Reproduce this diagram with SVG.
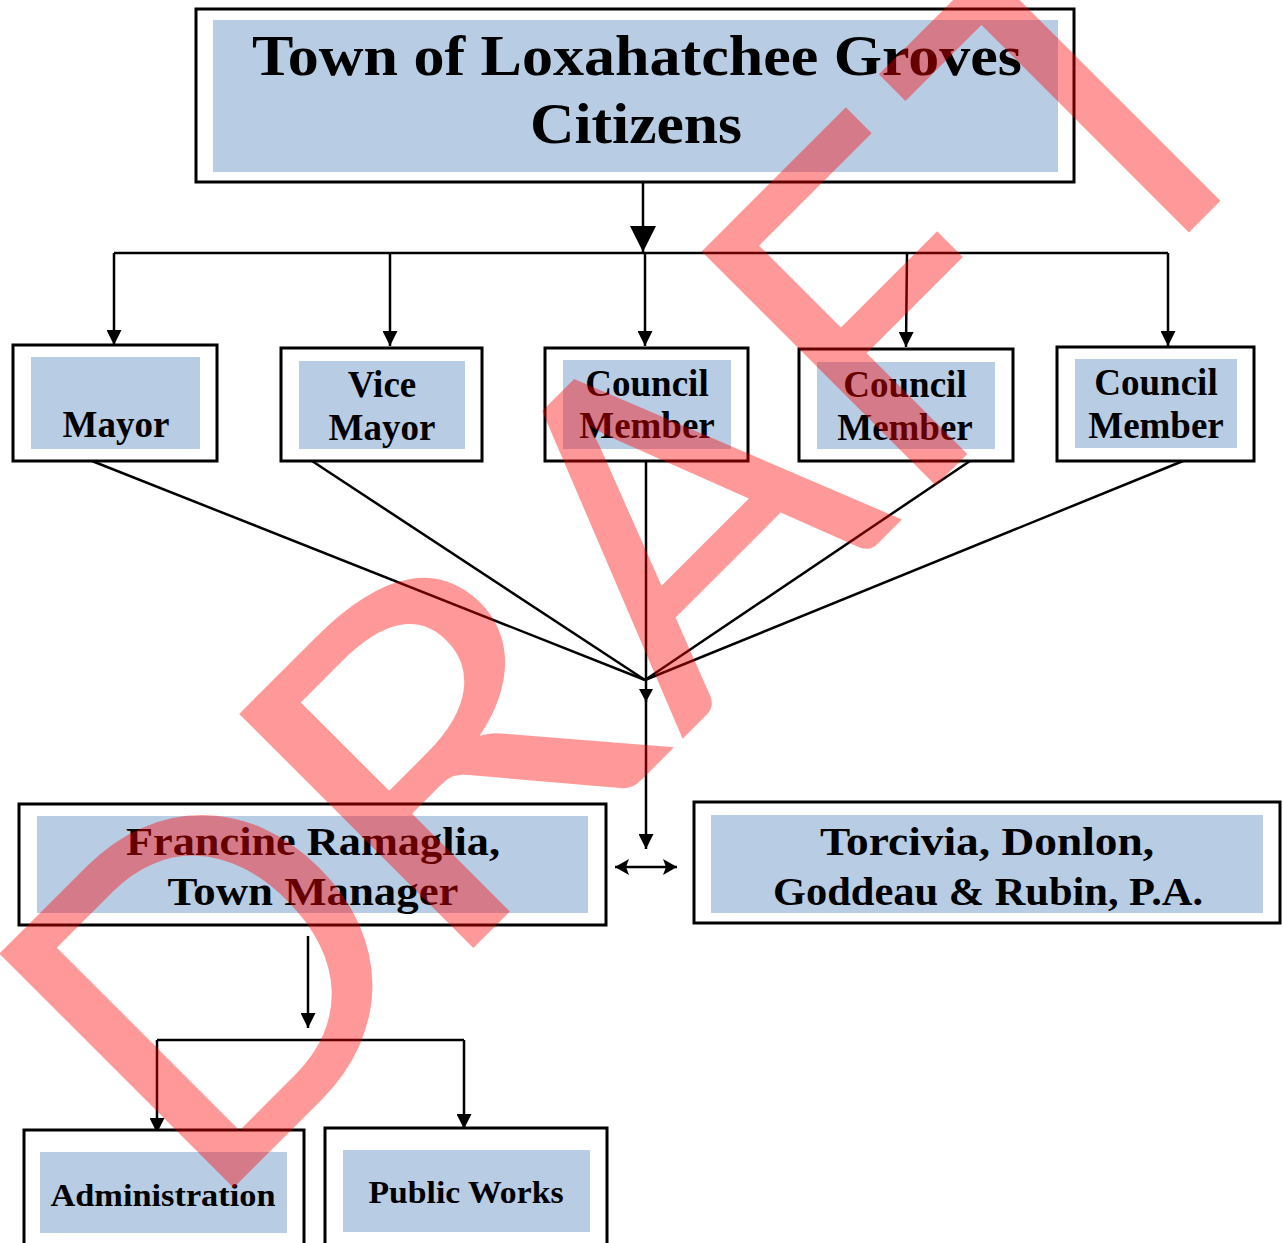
<svg xmlns="http://www.w3.org/2000/svg" width="1283" height="1243" viewBox="0 0 1283 1243">
<style>
.box{fill:#fff;stroke:#000;stroke-width:3}
.fill{fill:#B8CCE4}
.t{font-family:"Liberation Serif","Times New Roman",serif;font-weight:bold;fill:#000;text-anchor:middle}
.c{fill:none;stroke:#000;stroke-width:2.5}
.wm{font-family:Lato,"Open Sans",sans-serif;font-size:462px;fill:#FF0000;fill-opacity:0.4}
</style>
<defs>
<marker id="big" markerUnits="userSpaceOnUse" markerWidth="26" markerHeight="26" viewBox="0 0 26 26" refX="26" refY="13" orient="auto"><path d="M0,0 L26,13 L0,26 z" fill="#000"/></marker>
<marker id="ah" markerUnits="userSpaceOnUse" markerWidth="15" markerHeight="15" viewBox="0 0 15 15" refX="15" refY="7.5" orient="auto"><path d="M0,0 L15,7.5 L0,15 z" fill="#000"/></marker>
<marker id="sm" markerUnits="userSpaceOnUse" markerWidth="13" markerHeight="14" viewBox="0 0 13 14" refX="13" refY="7" orient="auto"><path d="M0,0 L13,7 L0,14 z" fill="#000"/></marker>
<marker id="dbl" markerUnits="userSpaceOnUse" markerWidth="14" markerHeight="16" viewBox="0 0 14 16" refX="14" refY="8" orient="auto-start-reverse"><path d="M0,0 L14,8 L0,16 L3,8 z" fill="#000"/></marker>
</defs>

<g id="connectors">
<path class="c" d="M643,182 V252" stroke-width="3" marker-end="url(#big)"/>
<path class="c" d="M114,253 H1168"/>
<path class="c" d="M114,253 V345" marker-end="url(#ah)"/>
<path class="c" d="M390,253 V346" marker-end="url(#ah)"/>
<path class="c" d="M645,253 V346" marker-end="url(#ah)"/>
<path class="c" d="M907,253 L906,347" marker-end="url(#ah)"/>
<path class="c" d="M1168,253 V346" marker-end="url(#ah)"/>
<path class="c" d="M92,461 L645,680"/>
<path class="c" d="M312,461 L645,680"/>
<path class="c" d="M970,461 L645,680"/>
<path class="c" d="M1183,461 L645,680"/>
<path class="c" d="M646,461 V702" marker-end="url(#sm)"/>
<path class="c" d="M646,700 V849" marker-end="url(#ah)"/>
<path class="c" d="M615,867 H677" stroke-width="2" marker-start="url(#dbl)" marker-end="url(#dbl)"/>
<path class="c" d="M308,936 V1028" marker-end="url(#ah)"/>
<path class="c" d="M157,1040 H464"/>
<path class="c" d="M157,1040 V1133" marker-end="url(#ah)"/>
<path class="c" d="M464,1040 V1129" marker-end="url(#ah)"/>
</g>

<g id="citizens">
<rect class="box" x="196" y="9" width="878" height="173"/>
<rect class="fill" x="213" y="20" width="845" height="152"/>
<text class="t" x="637" y="75" font-size="58" textLength="770" lengthAdjust="spacingAndGlyphs">Town of Loxahatchee Groves</text>
<text class="t" x="636" y="143" font-size="58" textLength="212" lengthAdjust="spacingAndGlyphs">Citizens</text>
</g>

<g id="mayor">
<rect class="box" x="13" y="345" width="204" height="116"/>
<rect class="fill" x="31" y="357" width="169" height="92"/>
<text class="t" x="116" y="437" font-size="37">Mayor</text>
</g>

<g id="vice-mayor">
<rect class="box" x="281" y="348" width="201" height="113"/>
<rect class="fill" x="299" y="361" width="166" height="88"/>
<text class="t" x="382" y="397" font-size="37">Vice</text>
<text class="t" x="382" y="440" font-size="37">Mayor</text>
</g>

<g id="council-1">
<rect class="box" x="545" y="348" width="203" height="113"/>
<rect class="fill" x="563" y="360" width="168" height="89"/>
<text class="t" x="647" y="396" font-size="37">Council</text>
<text class="t" x="647" y="438" font-size="37">Member</text>
</g>

<g id="council-2">
<rect class="box" x="799" y="349" width="214" height="112"/>
<rect class="fill" x="817" y="362" width="178" height="87"/>
<text class="t" x="905" y="397" font-size="37">Council</text>
<text class="t" x="905" y="440" font-size="37">Member</text>
</g>

<g id="council-3">
<rect class="box" x="1057" y="347" width="197" height="114"/>
<rect class="fill" x="1075" y="359" width="162" height="89"/>
<text class="t" x="1156" y="395" font-size="37">Council</text>
<text class="t" x="1156" y="438" font-size="37">Member</text>
</g>

<g id="town-manager">
<rect class="box" x="19" y="804" width="587" height="121"/>
<rect class="fill" x="37" y="816" width="551" height="97"/>
<text class="t" x="313" y="855" font-size="41" textLength="374" lengthAdjust="spacingAndGlyphs">Francine Ramaglia,</text>
<text class="t" x="313" y="905" font-size="41" textLength="291" lengthAdjust="spacingAndGlyphs">Town Manager</text>
</g>

<g id="attorney">
<rect class="box" x="694" y="802" width="586" height="121"/>
<rect class="fill" x="711" y="815" width="552" height="98"/>
<text class="t" x="987" y="855" font-size="41" textLength="334" lengthAdjust="spacingAndGlyphs">Torcivia, Donlon,</text>
<text class="t" x="988" y="905" font-size="41" textLength="430" lengthAdjust="spacingAndGlyphs">Goddeau &amp; Rubin, P.A.</text>
</g>

<g id="administration">
<rect class="box" x="24" y="1130" width="280" height="130"/>
<rect class="fill" x="40" y="1152" width="247" height="81"/>
<text class="t" x="163" y="1206" font-size="31" textLength="225" lengthAdjust="spacingAndGlyphs">Administration</text>
</g>

<g id="public-works">
<rect class="box" x="325" y="1128" width="282" height="130"/>
<rect class="fill" x="343" y="1150" width="247" height="82"/>
<text class="t" x="466" y="1203" font-size="31" textLength="195" lengthAdjust="spacingAndGlyphs">Public Works</text>
</g>

<g id="watermark" transform="rotate(-45)">
<text class="wm" y="1005"><tspan x="-717">D</tspan><tspan x="-41">A</tspan><tspan x="276">F</tspan><tspan x="562">T</tspan></text>
<text class="wm" y="1005" x="-378" transform="translate(-336,0) scale(1.16,1) translate(336,0)">R</text>
</g>
</svg>
